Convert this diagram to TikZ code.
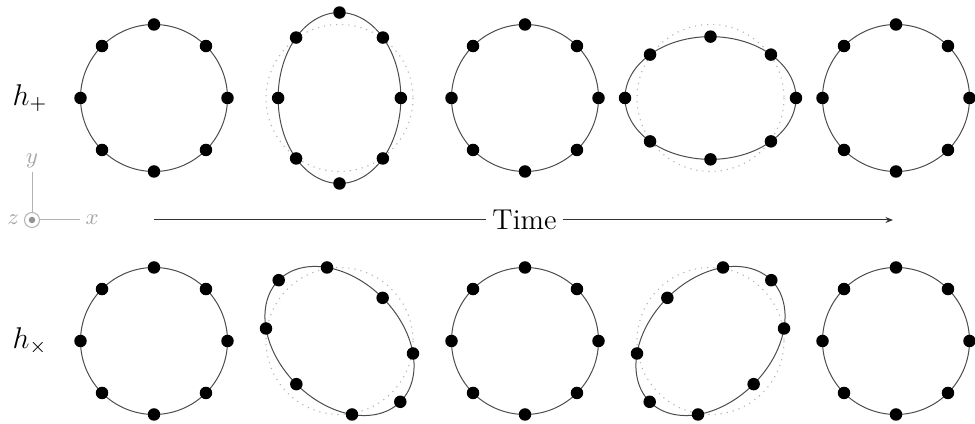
\documentclass[tikz,border=0pt]{standalone}
\usetikzlibrary{arrows.meta}
\tikzset{
  ring/.style={draw=black!70, line width=0.4pt},
  ghost/.style={draw=gray!60, dotted, line width=0.45pt},
  dot/.style={circle, fill=black, inner sep=0pt, minimum size=5pt},
  axisline/.style={draw=gray!60, line width=0.4pt},
  axislabel/.style={text=gray!70, font=\fontsize{9}{10}\selectfont},
  bigtext/.style={font=\fontsize{11.5}{13}\selectfont},
  timeline/.style={draw=black!80, line width=0.4pt},
}
\newcommand\gwring[6]{%
  \draw[ring] plot[domain=0:360, samples=181, variable=\t]
    ({#2 + #4*73.5*cos(\t) + #6*73.5*sin(\t)}, {#3 + #5*73.5*sin(\t) + #6*73.5*cos(\t)}) -- cycle;
  \foreach \k in {0,...,7}
    \node[dot] (#1-\k) at ({#2 + #4*73.5*cos(45*\k) + #6*73.5*sin(45*\k)}, {#3 + #5*73.5*sin(45*\k) + #6*73.5*cos(45*\k)}) {};
}
\begin{document}
\begin{tikzpicture}[x=0.4pt, y=-0.4pt]
  \useasboundingbox (0,0) rectangle (975,424);
  % labels
  \node[bigtext] (hplus) at (30,98) {$h_+$};
  \node[bigtext] (hcross) at (30,341) {$h_\times$};
  % axes
  \node[circle, draw=gray!60, line width=0.4pt, minimum size=6pt, inner sep=0pt] (o) at (32,220) {};
  \node[circle, fill=gray!85, minimum size=2.6pt, inner sep=0pt] (oc) at (32,220) {};
  \coordinate (yend) at (32,172);
  \coordinate (xend) at (80,220);
  \draw[axisline] (o) -- (yend);
  \draw[axisline] (o) -- (xend);
  \node[axislabel, anchor=south, inner sep=1.5pt] (ylab) at (yend) {$y$};
  \node[axislabel, anchor=west, inner sep=2pt] (xlab) at (xend) {$x$};
  \node[axislabel, anchor=east, inner sep=1pt] (zlab) at (22,220) {$z$};
  % time arrow
  \coordinate (tstart) at (154,220);
  \coordinate (tend) at (893,220);
  \node[bigtext, inner sep=2.2pt] (time) at (524.5,220) {Time};
  \draw[timeline] (tstart) -- (time);
  \draw[timeline, -{Stealth[length=3pt,width=2.4pt]}] (time) -- (tend);
  % ghost circles
  \draw[ghost] (339.5,98) circle[radius=73.5];
  \draw[ghost] (710.5,98) circle[radius=73.5];
  \draw[ghost] (339.5,341) circle[radius=73.5];
  \draw[ghost] (710.5,341) circle[radius=73.5];
  % plus row
  \gwring{p1}{154}{98}{1}{1}{0}
  \gwring{p2}{339.5}{98}{0.835}{1.163}{0}
  \gwring{p3}{525}{98}{1}{1}{0}
  \gwring{p4}{710.5}{98}{1.163}{0.835}{0}
  \gwring{p5}{896}{98}{1}{1}{0}
  % cross row
  \gwring{c1}{154}{341}{1}{1}{0}
  \gwring{c2}{339.5}{341}{1}{1}{0.17}
  \gwring{c3}{525}{341}{1}{1}{0}
  \gwring{c4}{710.5}{341}{1}{1}{-0.17}
  \gwring{c5}{896}{341}{1}{1}{0}
\end{tikzpicture}
\end{document}
